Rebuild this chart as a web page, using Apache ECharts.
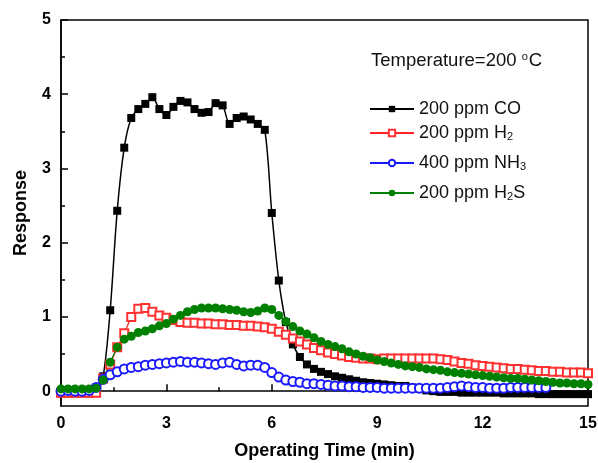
<!DOCTYPE html>
<html>
<head>
<meta charset="utf-8">
<script src="https://cdn.jsdelivr.net/npm/echarts@6/dist/echarts.min.js"></script>
<style>
  html, body { margin: 0; padding: 0; background: #fff; }
  #chart { width: 598px; height: 463px; }
</style>
</head>
<body>
<div id="chart"></div>
<script>
// operating time (min), one reading every 0.2 min
var times = [0, 0.2, 0.4, 0.6, 0.8, 1.0, 1.2, 1.4, 1.6, 1.8, 2.0, 2.2, 2.4, 2.6, 2.8, 3.0,
  3.2, 3.4, 3.6, 3.8, 4.0, 4.2, 4.4, 4.6, 4.8, 5.0, 5.2, 5.4, 5.6, 5.8, 6.0,
  6.2, 6.4, 6.6, 6.8, 7.0, 7.2, 7.4, 7.6, 7.8, 8.0, 8.2, 8.4, 8.6, 8.8, 9.0,
  9.2, 9.4, 9.6, 9.8, 10.0, 10.2, 10.4, 10.6, 10.8, 11.0, 11.2, 11.4, 11.6, 11.8, 12.0,
  12.2, 12.4, 12.6, 12.8, 13.0, 13.2, 13.4, 13.6, 13.8, 14.0, 14.2, 14.4, 14.6, 14.8, 15.0];

var co = [-0.03, -0.03, -0.03, -0.03, -0.03, -0.02,
  0.2, 1.09, 2.43, 3.28, 3.68, 3.8, 3.87, 3.96, 3.8, 3.72, 3.83, 3.91, 3.89, 3.8, 3.75,
  3.76, 3.88, 3.85, 3.6, 3.68, 3.7, 3.66, 3.6, 3.52, 2.4,
  1.49, 0.93, 0.63, 0.46, 0.36, 0.30, 0.26, 0.23, 0.20, 0.18,
  0.16, 0.14, 0.12, 0.11, 0.10, 0.09, 0.08, 0.07, 0.07, 0.05,
  0.03, 0.01, 0.0, -0.01, -0.01, -0.01, -0.02, -0.02, -0.02, -0.02,
  -0.02, -0.02, -0.03, -0.03, -0.03, -0.03, -0.03, -0.04, -0.04, -0.04, -0.04, -0.04, -0.04, -0.04, -0.04];

var h2 = [-0.02, -0.02, -0.02, -0.02, -0.02, -0.02,
  0.17, 0.36, 0.59, 0.78, 1.0, 1.11, 1.12, 1.07, 1.02, 0.99, 0.96, 0.93, 0.92, 0.92, 0.91,
  0.91, 0.90, 0.90, 0.89, 0.89, 0.88, 0.88, 0.87, 0.86, 0.84,
  0.80, 0.76, 0.71, 0.67, 0.63, 0.58, 0.55, 0.52, 0.50, 0.48,
  0.46, 0.45, 0.44, 0.44, 0.43, 0.44, 0.44, 0.44, 0.44, 0.44,
  0.44, 0.44, 0.44, 0.43, 0.42, 0.40, 0.38, 0.37, 0.35, 0.34,
  0.33, 0.32, 0.31, 0.30, 0.30, 0.29, 0.28, 0.27, 0.27, 0.26, 0.26, 0.25, 0.25, 0.25, 0.24];

// NH3 trace stops at 13.8 min
var nh3 = [0.0, 0.01, 0.0, 0.0, 0.01, 0.05,
  0.16, 0.22, 0.26, 0.30, 0.32, 0.33, 0.35, 0.36, 0.37, 0.38, 0.39, 0.40, 0.39, 0.39, 0.38,
  0.37, 0.36, 0.38, 0.39, 0.36, 0.34, 0.35, 0.35, 0.32, 0.25,
  0.19, 0.15, 0.13, 0.12, 0.10, 0.10, 0.09, 0.08, 0.07, 0.07,
  0.06, 0.06, 0.05, 0.05, 0.05, 0.04, 0.04, 0.04, 0.04, 0.04,
  0.04, 0.04, 0.04, 0.04, 0.05, 0.06, 0.07, 0.06, 0.05, 0.05,
  0.04, 0.04, 0.04, 0.05, 0.05, 0.05, 0.05, 0.05, 0.05];

var h2s = [0.03, 0.03, 0.03, 0.03, 0.03, 0.04,
  0.15, 0.39, 0.59, 0.70, 0.74, 0.79, 0.81, 0.84, 0.88, 0.91, 0.97, 1.02, 1.07, 1.10, 1.12,
  1.12, 1.12, 1.11, 1.10, 1.09, 1.07, 1.06, 1.08, 1.12, 1.10,
  1.02, 0.94, 0.87, 0.81, 0.77, 0.72, 0.67, 0.63, 0.60, 0.57,
  0.53, 0.50, 0.47, 0.45, 0.42, 0.40, 0.38, 0.36, 0.34, 0.33,
  0.32, 0.30, 0.29, 0.28, 0.26, 0.25, 0.24, 0.23, 0.22, 0.21,
  0.20, 0.19, 0.18, 0.17, 0.17, 0.16, 0.15, 0.14, 0.13, 0.12, 0.11, 0.11, 0.10, 0.10, 0.09];

var names = ['200 ppm CO', '200 ppm H2', '400 ppm NH3', '200 ppm H2S'];
var labelText = {
  '200 ppm CO': '200 ppm CO',
  '200 ppm H2': '200 ppm H{sub|2}',
  '400 ppm NH3': '400 ppm NH{sub|3}',
  '200 ppm H2S': '200 ppm H{sub|2}S'
};
var yMajor = [0, 1, 2, 3, 4, 5];
var yMinor = [0.5, 1.5, 2.5, 3.5, 4.5];
var legendTops = [100, 124, 154, 184];

function pairs(vals) {
  var out = [];
  for (var i = 0; i < vals.length; i++) out.push([times[i], vals[i]]);
  return out;
}

var font = 'Liberation Sans, Arial, sans-serif';

var legends = names.map(function (n, i) {
  return {
    data: [n],
    left: 369,
    top: legendTops[i],
    padding: 0,
    itemWidth: 44,
    itemHeight: 8,
    itemGap: 5,
    formatter: function (name) { return labelText[name]; },
    textStyle: {
      fontFamily: font, fontSize: 18, color: '#111',
      rich: { sub: { fontFamily: font, fontSize: 11, color: '#111', padding: [8, 0, 0, 0] } }
    }
  };
});

var chart = echarts.init(document.getElementById('chart'));
chart.setOption({
  animation: false,
  backgroundColor: '#fff',
  grid: {
    left: 61, right: 10, top: 20, bottom: 57, outerBoundsMode: 'none',
    show: true, borderColor: '#000', borderWidth: 1.5
  },
  legend: legends,
  graphic: [{
    type: 'text', left: 371, top: 51,
    style: {
      text: 'Temperature=200 {sup|o}C',
      fontFamily: font, fontSize: 18.5, fill: '#111',
      rich: { sup: { fontFamily: font, fontSize: 11, fill: '#111', padding: [0, 1, 9, 0] } }
    }
  }],
  xAxis: {
    type: 'value', min: 0, max: 15, interval: 3,
    name: 'Operating Time (min)', nameLocation: 'middle', nameGap: 36,
    nameTextStyle: { fontFamily: font, fontSize: 18, fontWeight: 'bold', color: '#000' },
    axisLine: { lineStyle: { color: '#000', width: 1.5 } },
    axisTick: { inside: true, length: 7, lineStyle: { color: '#000', width: 1.5 } },
    minorTick: { show: true, splitNumber: 2, length: 4, lineStyle: { color: '#000', width: 1.5 } },
    axisLabel: { fontFamily: font, fontSize: 16, fontWeight: 'bold', color: '#000', margin: 10 },
    splitLine: { show: false }
  },
  yAxis: [{
    type: 'value', min: -0.2, max: 5,
    name: 'Response', nameLocation: 'middle', nameGap: 31,
    nameTextStyle: { fontFamily: font, fontSize: 18, fontWeight: 'bold', color: '#000' },
    axisLine: { lineStyle: { color: '#000', width: 1.5 } },
    axisTick: { inside: true, length: 7, customValues: yMajor, lineStyle: { color: '#000', width: 1.5 } },
    axisLabel: { customValues: yMajor, fontFamily: font, fontSize: 16, fontWeight: 'bold', color: '#000', margin: 10 },
    splitLine: { show: false }
  }, {
    type: 'value', min: -0.2, max: 5, position: 'left', offset: 0,
    axisLine: { show: false },
    axisTick: { inside: true, length: 4, customValues: yMinor, lineStyle: { color: '#000', width: 1.5 } },
    axisLabel: { show: false },
    splitLine: { show: false }
  }],
  series: [{
    name: names[0], type: 'line', data: pairs(co), smooth: 0.3,
    symbol: 'rect', symbolSize: 8,
    lineStyle: { color: '#000', width: 1.5 },
    itemStyle: { color: '#000' }
  }, {
    name: names[1], type: 'line', data: pairs(h2),
    symbol: 'emptyRect', symbolSize: 8,
    lineStyle: { color: '#ff2020', width: 1.2 },
    itemStyle: { color: '#ff3030', borderWidth: 1 }
  }, {
    name: names[2], type: 'line', data: pairs(nh3),
    symbol: 'emptyCircle', symbolSize: 9,
    lineStyle: { color: '#1a1aff', width: 1.2 },
    itemStyle: { color: '#1a1aff', borderWidth: 1 }
  }, {
    name: names[3], type: 'line', data: pairs(h2s),
    symbol: 'circle', symbolSize: 9,
    lineStyle: { color: '#008000', width: 1.2 },
    itemStyle: { color: '#008000' }
  }]
});
</script>
</body>
</html>
